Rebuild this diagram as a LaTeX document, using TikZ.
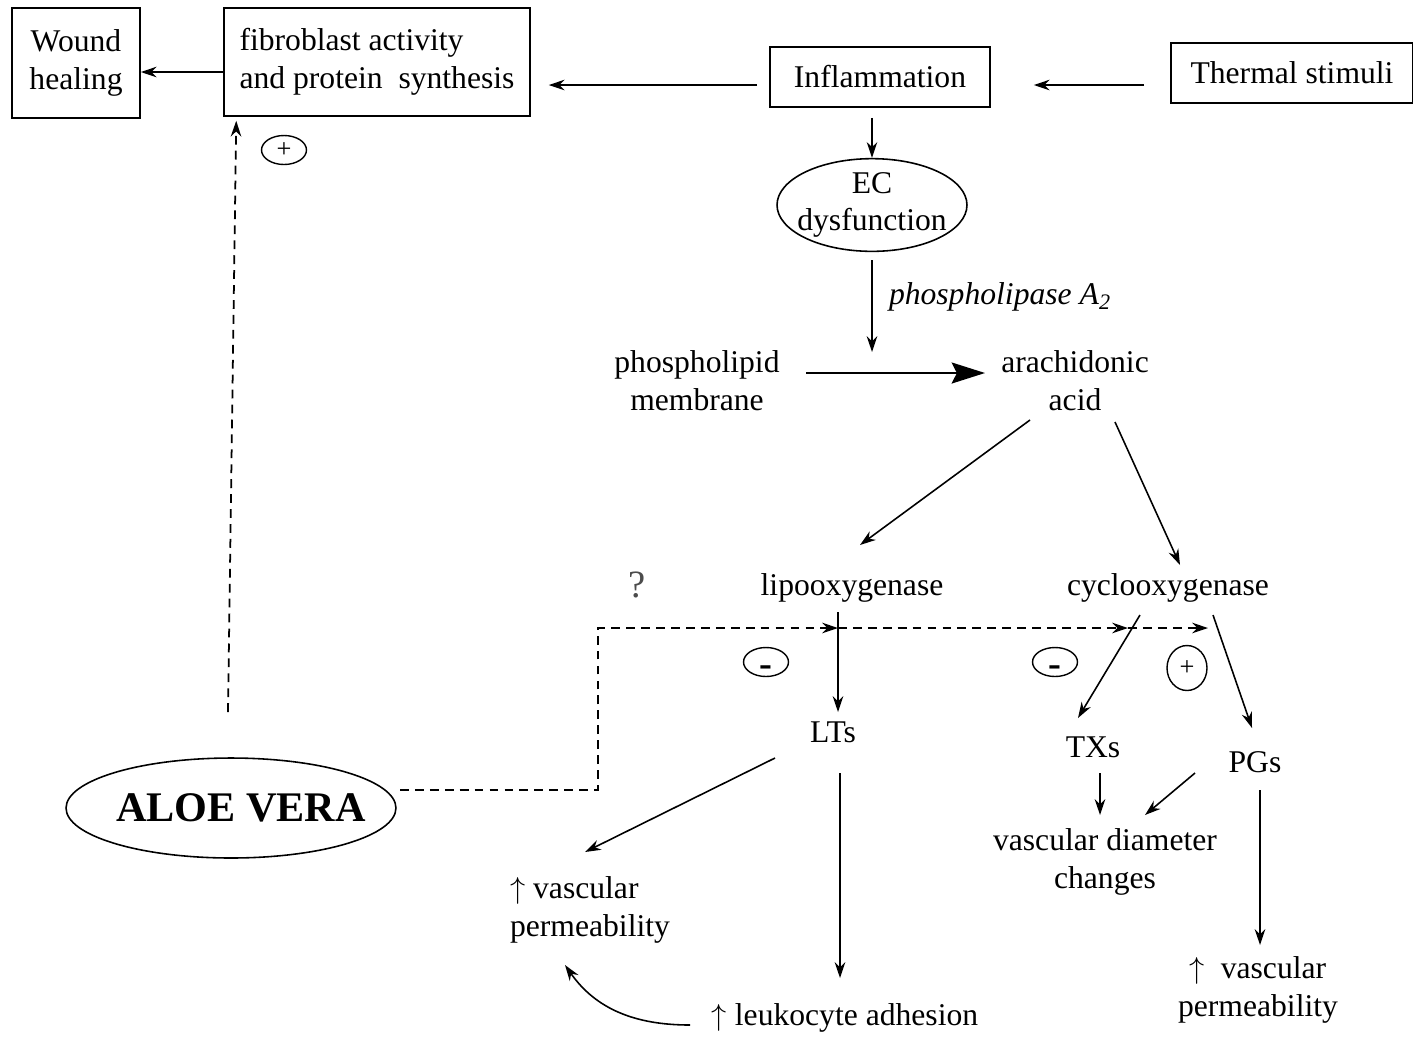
\documentclass[tikz,border=0pt]{standalone}
\usepackage{fontspec}
\setmainfont{Liberation Serif}
\usetikzlibrary{arrows.meta,shapes.geometric}

\begin{document}
\begin{tikzpicture}[
    x=0.02cm, y=-0.02cm,
    font=\fontsize{18}{21.5}\selectfont,
    box/.style={draw, rectangle, line width=0.9pt, align=center, inner sep=0pt},
    txt/.style={align=center, inner sep=0pt},
    sign/.style={draw, ellipse, line width=0.8pt, inner sep=0pt, minimum width=0.9cm, minimum height=0.58cm, font=\fontsize{15}{15}\selectfont},
    minus/.style={sign, font=\fontsize{22}{22}\selectfont\bfseries, text height=9.7pt, text depth=0pt},
    arr/.style={line width=0.9pt, -{Stealth[length=9pt,width=6pt]}},
    dline/.style={line width=1pt, dash pattern=on 5pt off 3.5pt},
]
    \useasboundingbox (0,0) rectangle (1413,1036);

    % Top row
    \node[box, minimum width=2.56cm, minimum height=2.2cm] (wound) at (76,63) {Wound\\healing};
    \node[box, minimum width=6.12cm, minimum height=2.16cm, align=left] (fib) at (377,62) {fibroblast activity\\and protein\ \ synthesis};
    \node[box, minimum width=4.4cm, minimum height=1.2cm] (infl) at (880,77) {Inflammation};
    \node[box, minimum width=4.84cm, minimum height=1.2cm] (therm) at (1292,73) {Thermal stimuli};
    \draw[arr] ([shift={(0,10)}]fib.west) -- ([shift={(0,9)}]wound.east);
    \draw[arr] ([shift={(-12,8)}]infl.west) -- ([shift={(18,23)}]fib.east);
    \draw[arr] ([shift={(-26,12)}]therm.west) -- ([shift={(43,8)}]infl.east);

    % Arachidonic acid cascade
    \node[draw, ellipse, line width=0.9pt, inner ysep=0pt, inner xsep=-0.15cm, minimum width=3.8cm, minimum height=1.8cm, align=center] (ec) at (872,205) {EC\\dysfunction};
    \node[txt] (pla) at (1000,297) {\textit{phospholipase A}\textsubscript{\textit{2}}};
    \coordinate (plaend) at (872,352);
    \node[txt] (phos) at (697,381) {phospholipid\\membrane};
    \node[txt] (arach) at (1075,381) {arachidonic\\acid};
    \draw[arr] ([shift={(-8,10)}]infl.south) -- (ec.north);
    \draw[arr] ([shift={(0,8)}]ec.south) -- (plaend);
    \draw[line width=0.9pt, -{Stealth[length=19pt,width=12pt,inset=3pt]}] ([shift={(109,-8)}]phos.center) -- ([shift={(-90,-8)}]arach.center);

    \node[txt] (lipo) at (852,588) {lipooxygenase};
    \node[txt] (cyclo) at (1168,588) {cyclooxygenase};
    \node[txt, font=\fontsize{22}{22}\selectfont, text=black!70] (q) at (637,585) {?};
    \draw[arr] ([shift={(-45,39)}]arach.center) -- ([shift={(8,-43)}]lipo.center);
    \draw[arr] ([shift={(40,41)}]arach.center) -- ([shift={(12,-23)}]cyclo.center);

    \node[txt] (lts) at (833,732) {LTs};
    \node[txt] (txs) at (1093,747) {TXs};
    \node[txt] (pgs) at (1255,762) {PGs};
    \draw[arr] ([shift={(-14,24)}]lipo.center) -- ([shift={(5,-20)}]lts.center);
    \draw[arr] ([shift={(-28,27)}]cyclo.center) -- ([shift={(-15,-29)}]txs.center);
    \draw[arr] ([shift={(45,27)}]cyclo.center) -- ([shift={(-3,-34)}]pgs.center);

    % Effects
    \node[txt, align=left] (vp1) at (590,910) {$\uparrow$ vascular\\permeability};
    \node[txt] (leuk) at (845,1018) {$\uparrow$ leukocyte adhesion};
    \node[txt] (vdc) at (1105,862) {vascular diameter\\changes};
    \node[txt] (vp2) at (1258,990) {$\uparrow$\ \ vascular\\permeability};
    \draw[arr] ([shift={(-58,26)}]lts.center) -- ([shift={(-5,-58)}]vp1.center);
    \draw[arr] ([shift={(7,41)}]lts.center) -- ([shift={(-5,-40)}]leuk.center);
    \draw[arr] ([shift={(-155,7)}]leuk.center) to[out=180, in=-55] ([shift={(-25,55)}]vp1.center);
    \draw[arr] ([shift={(7,26)}]txs.center) -- ([shift={(-5,-47)}]vdc.center);
    \draw[arr] ([shift={(-60,11)}]pgs.center) -- ([shift={(40,-47)}]vdc.center);
    \draw[arr] ([shift={(5,28)}]pgs.center) -- ([shift={(2,-45)}]vp2.center);

    % Aloe vera
    \node[draw, ellipse, line width=0.9pt, inner ysep=0pt, inner xsep=-0.37cm, minimum width=6.6cm, minimum height=2cm, font=\fontsize{24}{24}\selectfont\bfseries] (aloe) at (231,808) {\hspace{0.4cm}ALOE VERA};
    \coordinate (bend1) at (598,790);
    \coordinate (bend2) at (598,628);
    \coordinate (xlipo) at (838,628);
    \coordinate (xtx) at (1128,628);
    \coordinate (xpg) at (1208,628);
    \draw[dline, -{Stealth[length=9pt,width=6pt]}] ([shift={(-3,-96)}]aloe.center) -- ([shift={(13,4)}]fib.south west);
    \draw[dline, -{Stealth[length=9pt,width=6pt]}] ([shift={(169,-18)}]aloe.center) -- (bend1) -- (bend2) -- (xlipo);
    \draw[dline, -{Stealth[length=9pt,width=6pt]}] (xlipo) -- (xtx);
    \draw[dline, -{Stealth[length=9pt,width=6pt]}] (xtx) -- (xpg);

    % Signs
    \node[sign] (s1) at (284,150) {+};
    \node[minus] (s2) at (766,662) {\raisebox{-3.2pt}{-}};
    \node[minus] (s3) at (1055,662) {\raisebox{-3.2pt}{-}};
    \node[sign, minimum width=0.8cm, minimum height=0.9cm] (s4) at (1187,668) {+};
\end{tikzpicture}
\end{document}
